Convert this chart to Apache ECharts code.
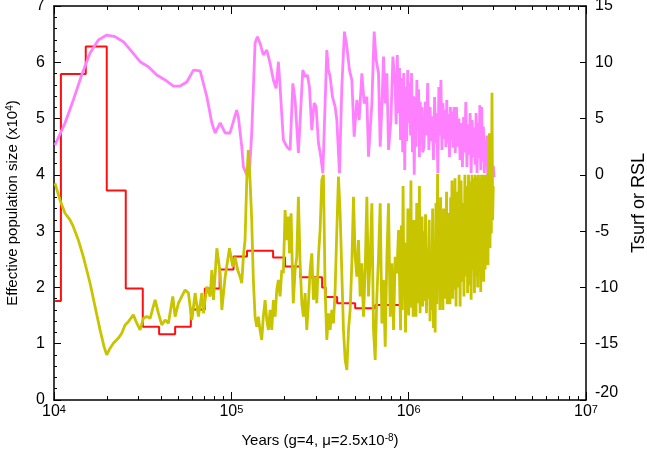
<!DOCTYPE html>
<html><head><meta charset="utf-8">
<script src="https://cdn.jsdelivr.net/npm/echarts@6/dist/echarts.min.js"></script>
<style>html,body{margin:0;padding:0;background:#fff}#c{width:647px;height:449px}</style>
</head><body><div id="c"></div>
<script>
// PSMC effective population size (x10^4), step function, left axis
const psmcYears = [10140, 10940, 15100, 19840, 25390, 31670, 39150, 48200, 59110, 70900, 85940, 102900, 122600, 172000, 201000, 244200, 325000, 340200, 395000, 499200, 647400, 896000, 1160000];
const psmcNe = [1.76, 5.79, 6.28, 3.72, 1.98, 1.30, 1.17, 1.30, 1.61, 1.98, 2.32, 2.55, 2.65, 2.53, 2.37, 2.18, 2.00, 1.83, 1.72, 1.63, 1.69, 2.06, 2.06];

// Tsurf (right axis)
const tsurfYears = [10130, 11540, 12850, 14330, 15970, 17790, 19830, 22100, 24610, 27450,
  30580, 34060, 37990, 42320, 47130, 51430, 56110, 61130, 66700, 72770,
  77650, 81060, 86500, 92310, 98330, 107200, 109500, 114500, 116900, 122200,
  126400, 130300, 136100, 140200, 145200, 151500, 158400, 165400, 172600, 178800,
  184200, 188300, 196500, 205500, 214500, 222200, 228900, 238900, 252900, 260600,
  268500, 275600, 284300, 293000, 300700, 309900, 319600, 328100, 345500, 352900,
  360700, 371600, 384900, 393500, 407100, 419900, 434400, 448200, 463600, 478200,
  492700, 510300, 525800, 544500, 561100, 581100, 593600, 620200, 639000, 655900,
  676000, 690900, 706200, 721400, 737300, 753700, 769900, 794000, 814900, 839600,
  850000, 862500, 875000, 887500, 900000, 912500, 925000, 937500, 950000, 962500,
  975000, 987500, 1000000, 1012500, 1025000, 1037500, 1050000, 1062500, 1075000, 1087500,
  1100000, 1112500, 1125000, 1137500, 1150000, 1162500, 1175000, 1187500, 1200000,
  1220000, 1240000, 1260000, 1280000, 1300000, 1320000, 1340000, 1360000, 1380000, 1400000,
  1420000, 1440000, 1460000, 1480000, 1500000, 1520000, 1540000, 1560000, 1580000, 1600000,
  1620000, 1640000, 1660000, 1680000, 1700000, 1720000, 1740000, 1760000, 1780000, 1800000,
  1830000, 1860000, 1890000, 1920000, 1950000, 1980000, 2010000, 2040000, 2070000, 2100000,
  2130000, 2160000, 2190000, 2220000, 2250000, 2280000, 2310000, 2340000, 2370000, 2400000,
  2430000, 2460000, 2490000, 2520000, 2550000, 2580000, 2610000, 2640000, 2670000, 2700000,
  2730000, 2760000, 2790000, 2820000, 2850000, 2880000, 2910000, 2940000, 2970000, 3000000,
  3030000];
const tsurfValues = [2.65, 4.61, 6.65, 8.87, 10.82, 11.98, 12.42, 12.27, 11.83, 10.94,
  10.05, 9.61, 8.87, 8.43, 7.89, 7.89, 8.25, 9.31, 9.23, 6.94,
  4.61, 3.72, 4.61, 3.72, 3.72, 5.76, 5.17, 2.5, 0.72, 0.0,
  0.14, 3.72, 11.69, 12.27, 11.69, 10.65, 11.09, 9.91, 8.43, 7.69,
  10.05, 7.83, 3.10, 2.50, 2.21, 8.13, 6.65, 1.94, 9.31, 8.72,
  8.87, 7.83, 3.98, 6.38, 6.05, 2.83, 1.61, 0.14, 11.09, 9.31,
  8.72, 6.94, 6.05, 4.87, 0.14, 7.83, 12.72, 11.39, 9.31, 8.43,
  3.39, 6.65, 4.87, 9.02, 6.35, 6.94, 1.61, 6.35, 12.72, 10.20,
  9.02, 2.50, 6.05, 10.50, 6.35, 9.02, 2.21, 4.87, 10.50, 7.83,
  4.5, 10.65, 5.5, 9.5, 3.1, 8.6, 2.0, 9.05, 0.43, 7.8,
  3.0, 9.31, 4.61, 8.2, 3.5, 9.05, 2.0, 7.0, 0.0, 6.92,
  2.5, 8.43, 4.0, 7.6, 1.59, 6.5, 3.0, 6.03, 2.0,
  2.47, 6.5, 3.5, 8.16, 2.21, 6.03, 3.0, 5.2, 1.32, 6.92,
  2.8, 5.5, 0.16, 7.8, 3.5, 8.43, 2.21, 6.38, 3.2, 5.8,
  2.47, 6.65, 2.8, 5.4, 1.59, 6.03, 3.1, 5.6, 2.4, 6.03,
  1.94, 6.03, 2.5, 5.0, 1.32, 4.61, 0.70, 5.14, 2.0, 6.47,
  0.70, 4.5, 1.8, 5.49, 0.16, 4.87, 1.59, 4.2, 0.9, 5.49,
  0.16, 4.6, 1.5, 6.21, 0.43, 6.03, 1.2, 4.3, 0.16, 3.10,
  0.8, 3.5, -0.1, 2.83, 0.5, 2.2, 0.16, 1.0, 0.0, 0.8,
  -0.2];

// RSL (right axis)
const rslYears = [10130, 10810, 11540, 12310, 12850, 13710, 14630, 15970, 17040, 18180,
  19150, 19830, 20710, 21620, 23070, 24100, 25160, 26260, 28020, 29300,
  30580, 31920, 33350, 34830, 37160, 38790, 40540, 42320, 44170, 46760,
  48200, 50310, 52570, 54890, 57290, 59870, 62500, 65230, 68180, 69610,
  72760, 75960, 77650, 79280, 82860, 86500, 88420, 92310, 97610, 101800,
  104900, 108600, 112000, 114500, 116900, 119500, 122200, 124700, 127500, 130300,
  133100, 136100, 139100, 142000, 145200, 148400, 151500, 155000, 158400, 161800,
  165400, 169100, 172600, 176500, 180400, 184200, 188300, 192500, 196500, 201000,
  205500, 209900, 212600, 217300, 220500, 223500, 228900, 233900, 238900, 244200,
  249700, 255000, 260600, 266400, 272100, 278100, 284300, 290400, 296800, 303400,
  309900, 316700, 323700, 330600, 338000, 345500, 352900, 360700, 368700, 376600,
  384900, 393500, 401900, 410800, 419900, 428900, 438400, 448200, 457800, 467800,
  478200, 488500, 499200, 510300, 521200, 532700, 544500, 556200, 568500, 581100,
  593600, 606700, 620200, 633500, 647400, 661800, 676000, 690900, 706200, 721400,
  737300, 753700, 769900, 786800, 804300, 821600, 839600, 858300, 876700,
  900000, 910000, 920000, 930000, 940000, 950000, 960000, 970000, 980000, 990000,
  1000000, 1010000, 1020000, 1030000, 1040000, 1050000, 1060000, 1070000, 1080000, 1090000,
  1100000, 1110000, 1120000, 1130000, 1140000, 1150000, 1160000, 1170000, 1180000, 1190000,
  1200000,
  1215000, 1230000, 1245000, 1260000, 1275000, 1290000, 1305000, 1320000, 1335000, 1350000,
  1365000, 1380000, 1395000, 1410000, 1425000, 1440000, 1455000, 1470000, 1485000, 1500000,
  1515000, 1530000, 1545000, 1560000, 1575000, 1590000, 1605000, 1620000, 1635000, 1650000,
  1665000, 1680000, 1695000, 1710000, 1725000, 1740000, 1755000, 1770000, 1785000, 1800000,
  1825000, 1850000, 1875000, 1900000, 1925000, 1950000, 1975000, 2000000,
  2025000, 2050000, 2075000, 2100000, 2125000, 2150000, 2175000, 2200000,
  2225000, 2250000, 2275000, 2300000, 2325000, 2350000, 2375000, 2400000,
  2425000, 2450000, 2475000, 2500000, 2525000, 2550000, 2575000, 2600000,
  2625000, 2650000, 2675000, 2700000, 2725000, 2750000, 2775000, 2800000,
  2825000, 2850000, 2875000, 2900000, 2925000, 2950000, 2975000, 3000000];
const rslValues = [-0.75, -2.23, -3.41, -4.0, -4.6, -5.78, -7.26, -9.63, -11.7, -13.77,
  -15.26, -15.99, -15.4, -14.96, -14.5, -14.07, -13.33, -13.04, -12.44, -13.18,
  -13.77, -12.74, -12.59, -12.74, -11.11, -12.29, -13.33, -12.89, -13.18, -10.8,
  -12.59, -11.4, -10.8, -10.22, -10.5, -12.89, -10.5, -12.59, -10.5, -12.29,
  -9.93, -10.8, -8.45, -11.1, -6.52, -8.74, -12.0, -9.04, -6.52, -8.15,
  -7.27, -8.45, -9.05, -9.63, -7.27, -5.79, -0.46, 2.21, -0.46, -4.01,
  -9.34, -12.6, -13.49, -12.6, -13.78, -14.67, -12.6, -11.12, -12.89, -13.78,
  -12.0, -13.78, -11.12, -12.6, -10.23, -9.34, -10.8, -8.45, -8.74, -3.12,
  -5.79, -3.71, -6.97, -3.42, -7.86, -11.41, -8.45, -7.27, -1.94, -7.86,
  -11.41, -12.6, -10.5, -13.78, -11.41, -8.45, -6.97, -11.1, -9.05, -11.41,
  -7.27, -4.90, -0.46, 0.0, -10.23, -14.67, -12.3, -13.78, -12.0, -13.2,
  -10.23, -4.9, -0.16, -3.42, -8.74, -13.78, -16.45, -17.34, -13.78, -12.0,
  -7.86, -1.94, -7.27, -9.05, -5.79, -10.8, -7.86, -12.6, -8.45, -1.94,
  -10.8, -7.27, -2.53, -13.78, -16.45, -10.8, -7.27, -2.53, -13.2, -9.34,
  -15.27, -7.27, -2.53, -12.6, -7.86, -13.78, -7.27, -8.74, -4.90,
  -13.8, -4.5, -12.0, -1.0, -10.5, -6.0, -14.0, -8.0, -11.0, -3.0,
  -12.5, -7.5, -10.5, -0.5, -11.8, -6.5, -12.6, -4.0, -10.0, -8.5,
  -12.6, -2.5, -11.4, -5.5, -9.5, -1.0, -12.3, -6.0, -10.8, -3.7,
  -11.7,
  -5.0, -11.2, -3.5, -12.3, -6.5, -11.0, -4.0, -13.0, -7.0, -12.0,
  -3.0, -13.6, -6.0, -14.0, -2.5, -11.5, 0.1, -9.0, -4.5, -12.0,
  -2.0, -10.0, -5.0, -12.0, -3.0, -11.0, -4.0, -10.8, -1.5, -11.5,
  -5.5, -10.0, -3.4, -11.5, -2.0, -10.5, -0.5, -11.0, -2.8, -10.2,
  -0.3, -11.7, -1.5, -10.0, 0.0, -11.7, -0.5, -9.5,
  -2.5, -10.8, 0.0, -9.0, -1.0, -10.5, 0.0, -9.8,
  -0.6, -11.1, 0.0, -8.5, -0.3, -10.5, 0.0, -9.0,
  -0.2, -10.0, 0.0, -8.0, -0.4, -10.4, 0.0, -8.6,
  0.0, -9.5, -0.2, -8.4, 0.0, -7.0, 0.0, -8.0,
  -0.2, 3.7, -6.5, 0.2, -5.2, 7.3, -4.0, -1.0];

// axis ticks
const xMinorTicks = [20000, 30000, 40000, 50000, 60000, 70000, 80000, 90000,
  200000, 300000, 400000, 500000, 600000, 700000, 800000, 900000,
  2000000, 3000000, 4000000, 5000000, 6000000, 7000000, 8000000, 9000000];

const FONT = '"Liberation Sans", Arial, sans-serif';
function pairs(xs, ys) { return xs.map((x, i) => [x, ys[i]]); }

const chart = echarts.init(document.getElementById('c'), null, {renderer: 'canvas'});
const supStyle = (fs) => ({fontSize: fs, fontFamily: FONT, color: '#000', verticalAlign: 'top', lineHeight: 5});
const noSplit = {splitLine: {show: false}, minorTick: {show: false}, minorSplitLine: {show: false}};
const tickLine = () => ({color: '#000', width: 1});

function xLog(pos, extra) {
  return Object.assign({
    type: 'log', logBase: 10, min: 10000, max: 10000000, position: pos,
    axisLine: {show: false, onZero: false}, axisTick: {show: false}, axisLabel: {show: false}
  }, noSplit, extra);
}
// tick-only helper axis, moved inward by its tick length so its ticks point into the plot
function xTicks(pos, len, custom) {
  const tick = {show: true, inside: false, length: len, lineStyle: tickLine()};
  if (custom) tick.customValues = custom;
  return xLog(pos, {offset: -len, axisTick: tick});
}

const xMain = xLog('bottom', {
  axisLine: {show: true, onZero: false, lineStyle: {color: '#000', width: 1.5}},
  axisTick: {show: true, inside: true, length: 8, lineStyle: tickLine()},
  axisLabel: {
    show: true, margin: 4, fontSize: 16, fontFamily: FONT, color: '#000',
    formatter: v => '10{sup|' + Math.round(Math.log10(v)) + '}',
    rich: {sup: supStyle(11)}
  },
  name: 'Years (g=4, \u03bc=2.5x10{sup|-8})', nameLocation: 'middle', nameGap: 33, nameMoveOverlap: false,
  nameTextStyle: {fontSize: 15, fontFamily: FONT, color: '#000', rich: {sup: supStyle(10)}}
});
const xTop = xLog('top', {
  axisLine: {show: true, onZero: false, lineStyle: {color: '#000', width: 1.5}},
  axisTick: {show: true, inside: true, length: 8, lineStyle: tickLine()}
});

function yTicks(pos, min, max, interval, len) {
  return Object.assign({
    type: 'value', min: min, max: max, interval: interval, position: pos, offset: -len,
    axisLine: {show: false, onZero: false}, axisLabel: {show: false},
    axisTick: {show: true, inside: false, length: len, lineStyle: tickLine()}
  }, noSplit);
}

const option = {
  animation: false,
  backgroundColor: '#fff',
  grid: {left: 54, right: 61, top: 6, bottom: 49, containLabel: false, outerBoundsMode: 'none'},
  xAxis: [xMain, xTicks('bottom', 8), xTicks('bottom', 4, xMinorTicks), xTop, xTicks('top', 8), xTicks('top', 4, xMinorTicks)],
  yAxis: [
    Object.assign({
      type: 'value', min: 0, max: 7, interval: 1, position: 'left',
      axisLine: {show: true, onZero: false, lineStyle: {color: '#000', width: 1.5}},
      axisTick: {show: true, inside: true, length: 7, lineStyle: tickLine()},
      axisLabel: {margin: 9, fontSize: 16, fontFamily: FONT, color: '#000'},
      name: 'Effective population size (x10{sup|4})', nameLocation: 'middle', nameGap: 34,
      nameMoveOverlap: false,
      nameTextStyle: {fontSize: 15, fontFamily: FONT, color: '#000', rich: {sup: supStyle(10)}}
    }, noSplit),
    Object.assign({
      type: 'value', min: -20, max: 15, interval: 5, position: 'right',
      axisLine: {show: true, onZero: false, lineStyle: {color: '#000', width: 1.5}},
      axisTick: {show: true, inside: true, length: 6, lineStyle: tickLine()},
      axisLabel: {margin: 9, fontSize: 16, fontFamily: FONT, color: '#000',
        formatter: v => (v === -20 ? '{lo|-20}' : String(v)),
        rich: {lo: {fontSize: 16, fontFamily: FONT, color: '#000', padding: [0, 0, 14, 0]}}},
      name: 'Tsurf or RSL', nameLocation: 'middle', nameGap: 44, nameMoveOverlap: false,
      nameTextStyle: {fontSize: 18, fontFamily: FONT, color: '#000'}
    }, noSplit),
    yTicks('left', 0, 7, 1, 7),
    yTicks('left', 0, 7, 0.2, 3),
    yTicks('right', -20, 15, 5, 6)
  ],
  series: [
    {
      name: 'PSMC', type: 'line', step: 'end', xAxisIndex: 0, yAxisIndex: 0,
      data: pairs(psmcYears, psmcNe), showSymbol: false, symbol: 'none',
      lineStyle: {color: '#ff1010', width: 2}, silent: true
    },
    {
      name: 'Tsurf', type: 'line', xAxisIndex: 0, yAxisIndex: 1,
      data: pairs(tsurfYears, tsurfValues), showSymbol: false, symbol: 'none',
      lineStyle: {color: '#ff80ff', width: 2.8}, silent: true
    },
    {
      name: 'RSL', type: 'line', xAxisIndex: 0, yAxisIndex: 1,
      data: pairs(rslYears, rslValues), showSymbol: false, symbol: 'none',
      lineStyle: {color: '#c8c400', width: 2.8}, silent: true
    }
  ]
};
chart.setOption(option);
</script>
</body></html>
